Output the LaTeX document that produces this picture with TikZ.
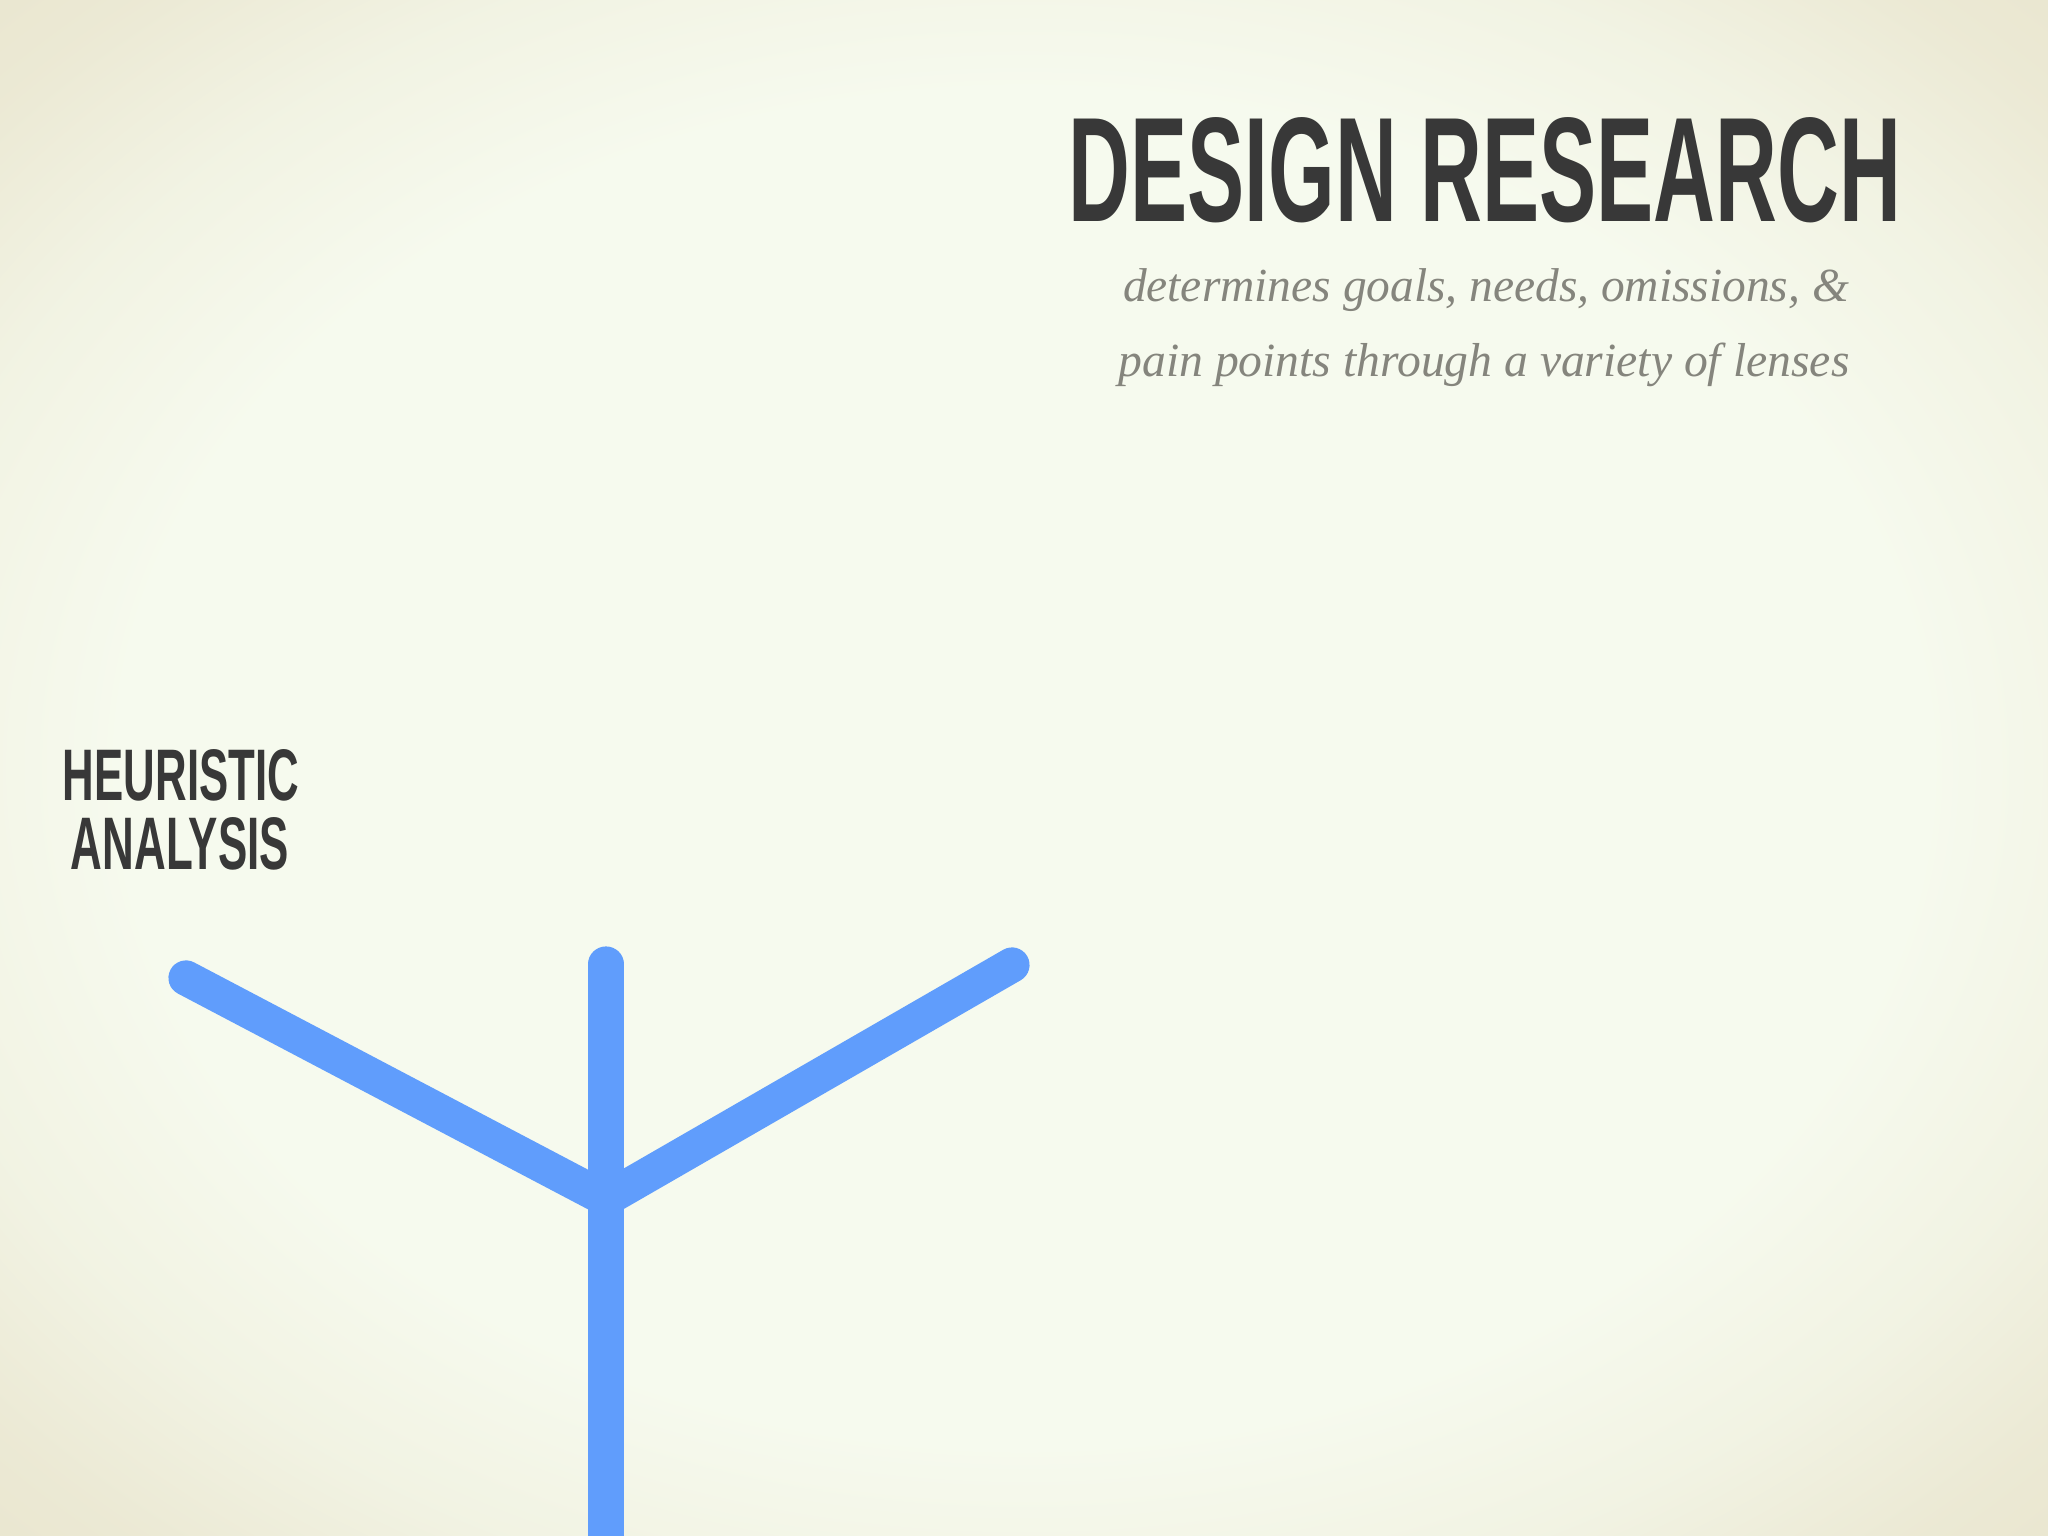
\documentclass[tikz,border=0pt]{standalone}
\usepackage{fontspec}
\setmainfont{Liberation Serif}
\newfontfamily\headfont{Liberation Sans}
\usepackage{graphicx}
\usepackage{xcolor}
\definecolor{inkgray}{RGB}{56,56,56}
\definecolor{notegray}{RGB}{133,133,125}
\definecolor{branchblue}{RGB}{96,157,252}
\definecolor{paperlight}{RGB}{246,250,238}
\definecolor{paperedge}{RGB}{233,229,206}
\pgfdeclareradialshading{vignette}{\pgfpoint{0bp}{0bp}}{color(0bp)=(paperlight); color(22bp)=(paperlight); color(28bp)=(paperedge!35!paperlight); color(33bp)=(paperedge!80!paperlight); color(37bp)=(paperedge); color(50bp)=(paperedge)}

\begin{document}
\begin{tikzpicture}[
    headline/.style={inkgray, inner sep=0pt, anchor=base},
    tagline/.style={notegray, inner sep=0pt, anchor=base, font=\itshape},
    branch/.style={branchblue, line width=10pt, line cap=round}]
    \useasboundingbox (0,0) rectangle (20.48,15.36);
    % Paper background
    \shade[shading=vignette] (0,0) rectangle (20.48,15.36);
    \clip (0,0) rectangle (20.48,15.36);

    % Title and tagline
    \node[headline] (title) at (14.85,13.14) {\resizebox{8.33cm}{1.04cm}{\headfont\bfseries DESIGN RESEARCH}};
    \node[tagline] (goalsline) at (14.86,12.34) {\resizebox{7.26cm}{!}{determines goals, needs, omissions, \&}};
    \node[tagline] (lensline) at (14.84,11.59) {\resizebox{7.31cm}{!}{pain points through a variety of lenses}};

    % Method label
    \node[headline] (heuristic) at (1.81,7.35) {\resizebox{2.36cm}{0.51cm}{\headfont\bfseries HEURISTIC}};
    \node[headline] (analysis) at (1.80,6.66) {\resizebox{2.18cm}{0.52cm}{\headfont\bfseries ANALYSIS}};

    % Branching stem
    \coordinate (leftend) at (1.86,5.58);
    \coordinate (midend) at (6.06,5.72);
    \coordinate (rightend) at (10.12,5.71);
    \coordinate (fork) at (6.06,3.37);
    \coordinate (root) at (6.06,-0.4);
    \draw[branch] (midend) -- (root);
    \draw[branch, line join=miter] (leftend) -- (fork) -- (rightend);
\end{tikzpicture}
\end{document}
